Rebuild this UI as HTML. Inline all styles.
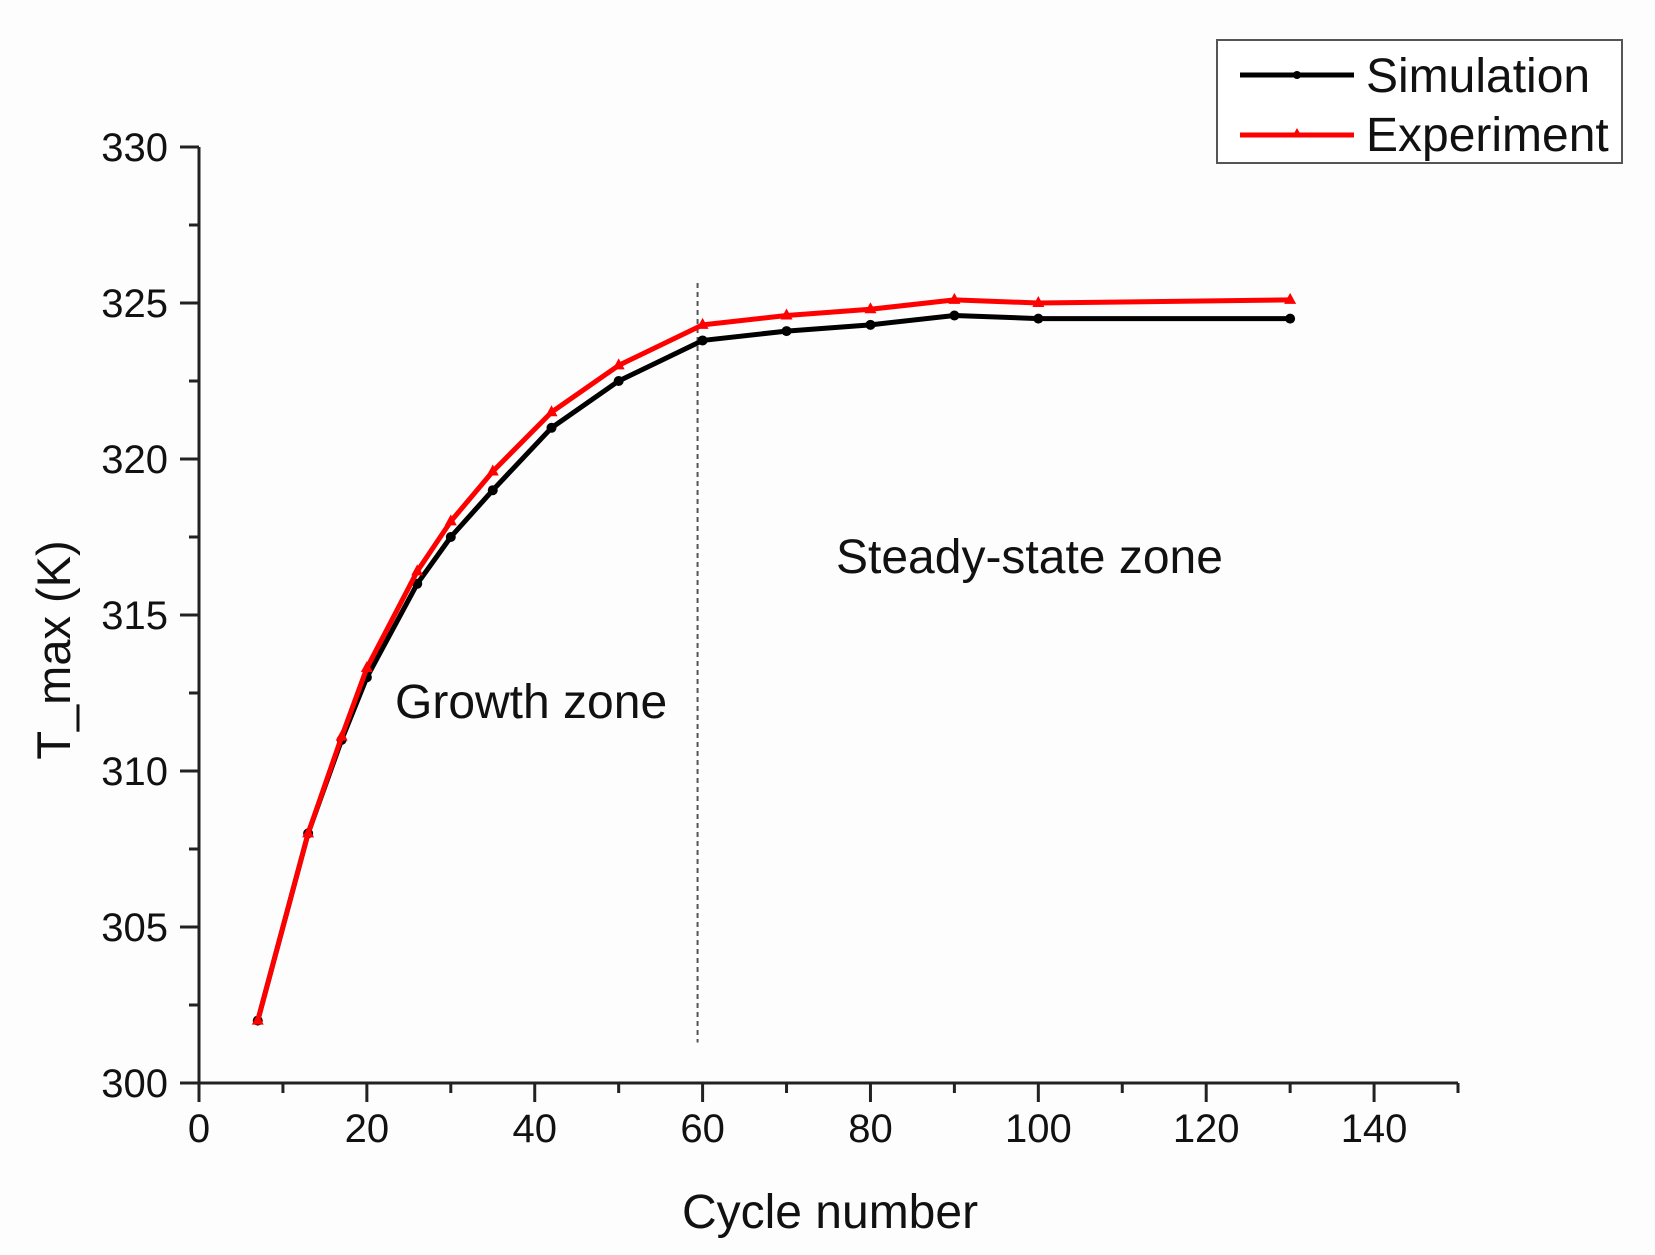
<!DOCTYPE html>
<html><head><meta charset="utf-8"><style>
html,body{margin:0;padding:0;background:#fff;}
svg{display:block;font-family:"Liberation Sans",Arial,sans-serif;}
</style></head><body>
<svg id="chart" width="1655" height="1255" viewBox="0 0 1655 1255">
<rect x="0" y="0" width="1655" height="1255" fill="#fdfdfd"/>
<g id="axes"></g>
<g id="plot"></g>
<text x="395" y="718" font-size="48" fill="#111">Growth zone</text>
<text x="836" y="573" font-size="48" fill="#111">Steady-state zone</text>
<text x="830" y="1228" font-size="48" fill="#111" text-anchor="middle">Cycle number</text>
<text transform="translate(70,650) rotate(-90)" font-size="47" fill="#111" text-anchor="middle">T_max (K)</text>
<g>
<rect x="1217" y="40" width="405" height="123" fill="#fff" stroke="#555" stroke-width="2"/>
<line x1="1240" y1="75" x2="1354" y2="75" stroke="#000" stroke-width="5"/>
<circle cx="1297" cy="75" r="4" fill="#000"/>
<text x="1366" y="92" font-size="48" fill="#111">Simulation</text>
<line x1="1240" y1="135" x2="1354" y2="135" stroke="#f00" stroke-width="5"/>
<polygon points="1297,128 1302,137 1292,137" fill="#f00"/>
<text x="1366" y="151" font-size="48" fill="#111">Experiment</text>
</g>
</svg>
<script>
const cycles = [7,13,17,20,26,30,35,42,50,60,70,80,90,100,130];
const simulation = [302,308,311,313,316,317.5,319,321,322.5,323.8,324.1,324.3,324.6,324.5,324.5];
const experiment = [302,308,311.1,313.3,316.4,318,319.6,321.5,323,324.3,324.6,324.8,325.1,325,325.1];
const xTicks = [0,20,40,60,80,100,120,140];
const yTicks = [300,305,310,315,320,325,330];
const dividerX = 59.4;

const X0=199, X1=1458, XMIN=0, XMAX=150;
const Y0=1083, Y1=147, YMIN=300, YMAX=330;
function sx(v){return X0+(v-XMIN)/(XMAX-XMIN)*(X1-X0);}
function sy(v){return Y0-(v-YMIN)/(YMAX-YMIN)*(Y0-Y1);}
const NS='http://www.w3.org/2000/svg';
function mk(tag,attrs,parent){const e=document.createElementNS(NS,tag);for(const k in attrs)e.setAttribute(k,attrs[k]);parent.appendChild(e);return e;}
const axes=document.getElementById('axes');
const plot=document.getElementById('plot');

let e=mk('line',{x1:X0,y1:Y0,x2:X1,y2:Y0,stroke:'#222','stroke-width':3},axes);


e=mk('line',{x1:X0,y1:Y0,x2:X0,y2:Y1,stroke:'#222','stroke-width':3},axes);


e=mk('line',{x1:X1,y1:Y0,x2:X1,y2:Y0+10,stroke:'#222','stroke-width':3},axes);


e=mk('line',{x1:X0-19,y1:Y1,x2:X0,y2:Y1,stroke:'#222','stroke-width':3},axes);



for(let v=0; v<=140; v+=10){
  const major = v%20===0;
  const t=mk('line',{x1:sx(v),y1:Y0,x2:sx(v),y2:Y0+(major?19:10),stroke:'#222','stroke-width':3},axes);
  
  
}
xTicks.forEach(v=>{
  const t=mk('text',{x:sx(v),y:Y0+59,'font-size':40,'text-anchor':'middle',fill:'#111'},axes);
  t.textContent=v;
  
  
});
for(let v=300; v<=330; v+=2.5){
  const major = v%5===0;
  const t=mk('line',{x1:X0-(major?19:10),y1:sy(v),x2:X0,y2:sy(v),stroke:'#222','stroke-width':3},axes);
  
  
}
yTicks.forEach(v=>{
  const t=mk('text',{x:X0-31,y:sy(v)+14,'font-size':40,'text-anchor':'end',fill:'#111'},axes);
  t.textContent=v;
  
  
});

e=mk('line',{x1:sx(dividerX),y1:283,x2:sx(dividerX),y2:sy(301.3),stroke:'#555','stroke-width':2,'stroke-dasharray':'5,4'},plot);



function series(vals,color,name,tri){
  const pts=cycles.map((c,i)=>sx(c)+','+sy(vals[i])).join(' ');
  const l=mk('polyline',{points:pts,fill:'none',stroke:color,'stroke-width':5,'stroke-linejoin':'round'},plot);
  
  
  cycles.forEach((c,i)=>{
    const x=sx(c),y=sy(vals[i]);
    let m;
    if(tri) m=mk('polygon',{points:`${x},${y-7} ${x+6},${y+4} ${x-6},${y+4}`,fill:color},plot);
    else m=mk('circle',{cx:x,cy:y,r:5,fill:color},plot);
    
    
  });
}
series(simulation,'#000','simulation',false);
series(experiment,'#f00','experiment',true);
</script>
</body></html>
